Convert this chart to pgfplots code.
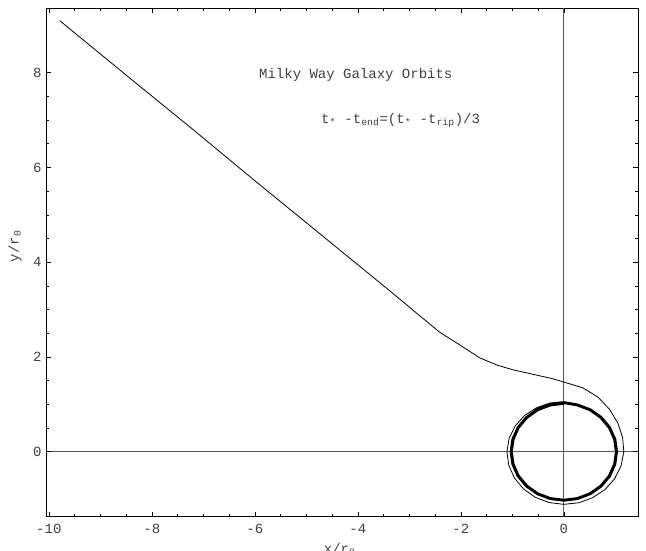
\documentclass[border=0pt]{standalone}
\usepackage{pgfplots}
\pgfplotsset{compat=1.18}
\usepackage{fontspec}
\setmainfont{Liberation Mono}
\definecolor{txt}{gray}{0.25}
\begin{document}
\begin{tikzpicture}
\useasboundingbox (-34.7pt,-25pt) rectangle (449.8pt,387.5pt);
\begin{axis}[
    width=443.8pt, height=381.3pt, scale only axis,
    xmin=-10.05, xmax=1.44, ymin=-1.37, ymax=9.36,
    xtick={-10,-8,-6,-4,-2,0}, xticklabels={-10,-8,-6,-4,-2,0},
    ytick={0,2,4,6,8}, yticklabels={0,2,4,6,8},
    minor x tick num=3, minor y tick num=3,
    tick align=inside,
    major tick length=3.5pt, minor tick length=2pt,
    every tick/.style={black, line width=0.5pt},
    axis line style={line width=0.6pt},
    tick label style={font=\fontsize{10.5}{12}\selectfont, text=txt},
    xticklabel style={yshift=-2pt},
    extra x ticks={0}, extra y ticks={0},
    extra x tick labels={}, extra y tick labels={},
    extra tick style={grid=major, major grid style={black!65, line width=0.8pt}},
    xlabel={x/r\textsubscript{0}},
    ylabel={y/r\textsubscript{0}},
    xlabel style={at={(axis description cs:0.496,0)}, anchor=north, inner sep=0pt, yshift=-19.5pt, font=\fontsize{10.5}{12}\selectfont, text=txt},
    ylabel style={at={([xshift=-23.5pt]axis description cs:0,0.532)}, anchor=center, inner sep=0pt, font=\fontsize{10.5}{12}\selectfont, text=txt},
    clip=false,
]
\addplot[black, line width=0.6pt] coordinates {
(0,1) (-0.2588,0.9659) (-0.5,0.866) (-0.7071,0.7071) (-0.866,0.5) (-0.9659,0.2588) (-1,0) (-0.9659,-0.2588) (-0.866,-0.5) (-0.7071,-0.7071) (-0.5,-0.866) (-0.2588,-0.9659) (0,-1) (0.2588,-0.9659) (0.5,-0.866) (0.7071,-0.7071) (0.866,-0.5) (0.9659,-0.2588) (1,0) (0.9659,0.2588) (0.866,0.5) (0.7071,0.7071) (0.5,0.866) (0.2588,0.9659)
(0,1.015) (-0.2627,0.9804) (-0.5075,0.879) (-0.7177,0.7177) (-0.879,0.5075) (-0.9804,0.2627) (-1.015,0) (-0.9804,-0.2627) (-0.879,-0.5075) (-0.7177,-0.7177) (-0.5075,-0.879) (-0.2627,-0.9804) (0,-1.015) (0.2627,-0.9804) (0.5075,-0.879) (0.7177,-0.7177) (0.879,-0.5075) (0.9804,-0.2627) (1.015,0) (0.9804,0.2627) (0.879,0.5075) (0.7177,0.7177) (0.5075,0.879) (0.2627,0.9804)
(0,1.03) (-0.2666,0.9949) (-0.515,0.892) (-0.7283,0.7283) (-0.892,0.515) (-0.9949,0.2666) (-1.03,0) (-0.9949,-0.2666) (-0.892,-0.515) (-0.7283,-0.7283) (-0.515,-0.892) (-0.2666,-0.9949) (0,-1.03) (0.2666,-0.9949) (0.515,-0.892) (0.7283,-0.7283) (0.892,-0.515) (0.9949,-0.2666) (1.03,0) (0.9949,0.2666) (0.892,0.515) (0.7283,0.7283) (0.515,0.892) (0.2666,0.9949)
(0,1.045) (-0.2704,1.0094) (-0.5225,0.905) (-0.7389,0.7389) (-0.905,0.5225) (-1.0094,0.2704) (-1.045,0) (-1.0094,-0.2704) (-0.905,-0.5225) (-0.7389,-0.7389) (-0.5225,-0.905) (-0.2704,-1.0094) (0,-1.045) (0.2704,-1.0094) (0.5225,-0.905) (0.7389,-0.7389) (0.905,-0.5225) (1.0094,-0.2704) (1.045,0) (1.0094,0.2704) (0.905,0.5225) (0.7389,0.7389) (0.5225,0.905) (0.2704,1.0094)
(0,1.06) (-0.2756,1.0287) (-0.535,0.9266) (-0.7637,0.7637) (-0.9439,0.545) (-1.0625,0.2847) (-1.105,0) (-1.0693,-0.2865) (-0.9595,-0.554) (-0.7842,-0.7842) (-0.555,-0.9613) (-0.2873,-1.0721) (0,-1.11) (0.2886,-1.077) (0.56,-0.9699) (0.799,-0.799) (0.9872,-0.57) (1.1108,-0.2976) (1.165,0) (1.1398,0.3054) (1.0479,0.605) (0.891,0.891) (0.665,1.1518) (0.3623,1.3523) (0,1.47)
(-0.21,1.54) (-0.5,1.61) (-0.99,1.73) (-1.3,1.83) (-1.63,1.98) (-2.0,2.24) (-2.42,2.53)
(-3.44,3.45) (-4.5,4.39) (-6,5.72) (-7.2,6.8) (-8.5,7.95) (-9.79,9.1)
};
\node[text=txt, font=\fontsize{10.5}{12}\selectfont] at (axis cs:-4.04,7.96) {Milky Way Galaxy Orbits};
\node[text=txt, font=\fontsize{10.5}{12}\selectfont] at (axis cs:-3.17,7.0) {t\textsubscript{*} -t\textsubscript{end}=(t\textsubscript{*} -t\textsubscript{rip})/3};
\end{axis}
\end{tikzpicture}
\end{document}
